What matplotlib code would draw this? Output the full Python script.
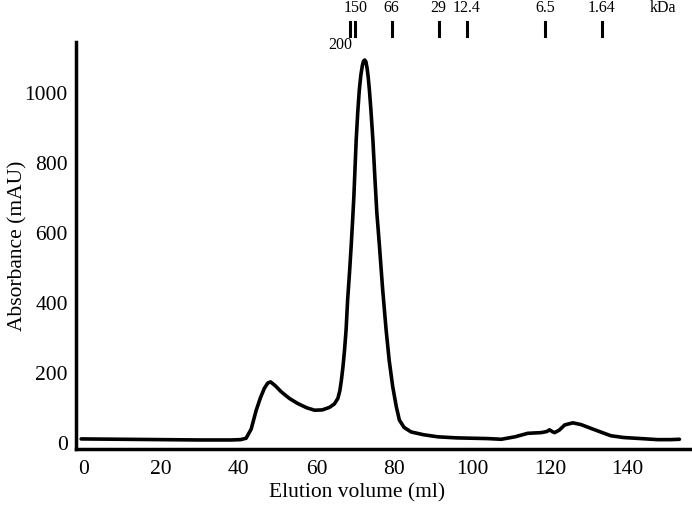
import matplotlib.pyplot as plt

plt.rcParams['font.family'] = ['Liberation Serif', 'DejaVu Serif']

# chromatogram
vol = [-0.5, 10, 20, 30, 38, 40.5, 41.9, 43.2, 44.5, 45.6, 46.6, 47.5, 48.2, 49.5, 50.9, 53, 55.2, 57.5,
       59.5, 61.5, 63.3, 64.6, 65.5, 66.0, 66.4, 66.8, 67.2, 67.6, 68.0, 68.5, 68.9, 69.3, 69.6, 70.2,
       70.6, 71.0, 71.4, 71.8, 72.1, 72.4, 72.7, 73.0, 73.3, 73.6, 74.0, 74.5, 75.0, 75.5, 76.2,
       77.0, 77.9, 78.7, 79.6, 80.5, 81.3, 82.5, 84.3, 87.5, 91.2, 96, 100, 104,
       107.5, 111, 114.3, 117.7, 119.2, 119.9, 120.6, 121.2, 122.4, 123.8, 125.9, 128, 130.6, 133,
       135.7, 139, 143.4, 147.7, 151, 153.3]
absorb = [12, 11, 10, 9, 9, 10, 14, 40, 94, 130, 157, 172, 175, 163, 147, 128, 113, 101,
          94, 95, 102, 112, 128, 150, 180, 218, 265, 323, 409, 490, 561, 640, 704, 866,
          945, 1009, 1052, 1080, 1092, 1095, 1090, 1072, 1045, 1009, 950, 866, 760, 660, 561,
          440, 323, 235, 161, 105, 66, 45, 32, 24, 18, 15, 14, 13,
          11, 18, 28, 30, 33, 38, 33, 30, 37, 52, 58, 53, 42, 32,
          21, 16, 13, 10, 10, 11]

# molecular weight markers (kDa)
mw_pos = [68.6, 70.0, 79.3, 91.4, 98.6, 118.8, 133.3]
mw_labels = ['200', '150', '66', '29', '12.4', '6.5', '1.64']

fig = plt.figure(figsize=(6.92, 5.08), dpi=100)
ax = fig.add_axes([0.110, 0.116, 0.887, 0.801])
ax.plot(vol, absorb, color='black', linewidth=2.6, solid_joinstyle='round', solid_capstyle='round')

ax.set_xlim(-1.8, 156)
ax.set_ylim(-17, 1146)
ax.set_xticks([0, 20, 40, 60, 80, 100, 120, 140])
ax.set_yticks([0, 200, 400, 600, 800, 1000])
ax.tick_params(length=0, labelsize=15.5)
ax.tick_params(axis='y', pad=6)
ax.tick_params(axis='x', pad=8)
ax.spines['top'].set_visible(False)
ax.spines['right'].set_visible(False)
ax.spines['left'].set_linewidth(2.5)
ax.spines['bottom'].set_linewidth(2.5)
ax.set_xlabel('Elution volume (ml)', fontsize=15.5)
ax.set_ylabel('Absorbance (mAU)', fontsize=15.5)
ax.xaxis.set_label_coords(0.458, -0.083)
ax.yaxis.set_label_coords(-0.08, 0.5)

for p, lab in zip(mw_pos, mw_labels):
    ax.plot([p, p], [1164, 1203], color='black', linewidth=2.2, clip_on=False)
    if lab == '200':
        ax.text(p - 2.5, 1138, lab, fontsize=11.5, ha='center', va='center')
    else:
        ax.text(p, 1243, lab, fontsize=11.5, ha='center', va='center')
ax.text(149.0, 1243, 'kDa', fontsize=11.5, ha='center', va='center')

fig.savefig('out.png', dpi=100)
